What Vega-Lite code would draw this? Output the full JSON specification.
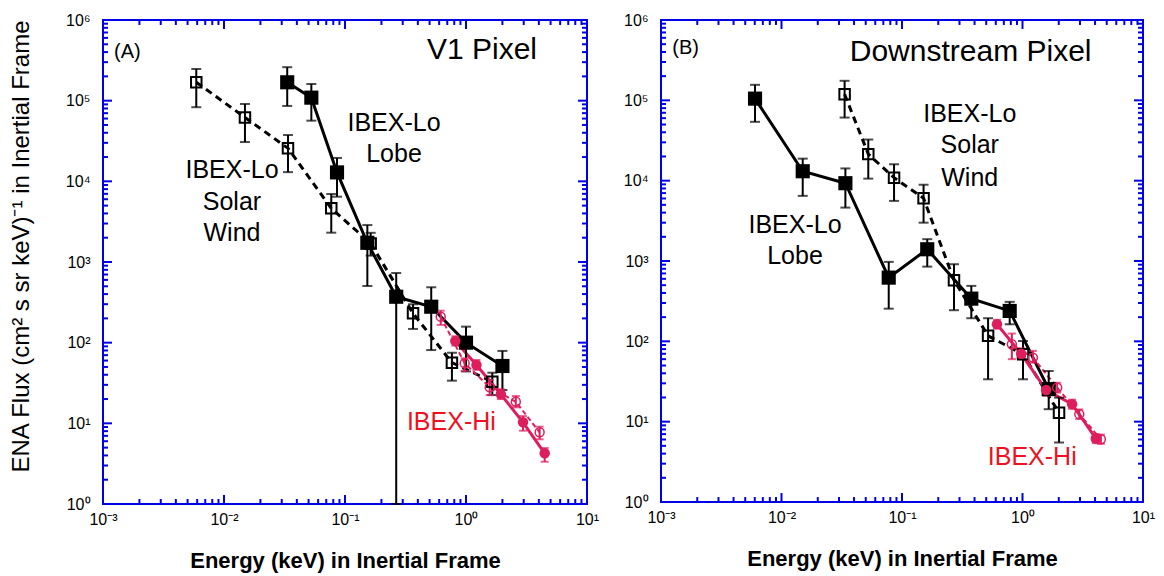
{
  "$schema": "https://vega.github.io/schema/vega-lite/v6.json",
  "background": "white",
  "padding": {"left": 8, "top": 11, "right": 10, "bottom": 5},
  "spacing": 74,
  "bounds": "flush",
  "config": {
    "font": "Liberation Sans",
    "view": {"stroke": "#0000e6", "strokeWidth": 2},
    "axis": {"grid": false, "domain": false, "ticks": false, "labelFont": "Liberation Sans", "labelFontSize": 16, "labelColor": "black", "labelFlush": false, "labelOverlap": false, "labelBound": false, "titleFont": "Liberation Sans", "titleColor": "black"}
  },
  "datasets": {
    "pts": [
      {"panel": "A", "series": "lobe", "E": 0.0333, "flux": 169000, "lo": 86000, "hi": 260000},
      {"panel": "A", "series": "lobe", "E": 0.0527, "flux": 109000, "lo": 56500, "hi": 161000},
      {"panel": "A", "series": "lobe", "E": 0.0859, "flux": 12900, "lo": 6450, "hi": 19500},
      {"panel": "A", "series": "lobe", "E": 0.153, "flux": 1730, "lo": 504, "hi": 2870},
      {"panel": "A", "series": "lobe", "E": 0.265, "flux": 371, "lo": 1, "hi": 731},
      {"panel": "A", "series": "lobe", "E": 0.516, "flux": 279, "lo": 81, "hi": 486},
      {"panel": "A", "series": "lobe", "E": 1.0, "flux": 100, "lo": 44, "hi": 158},
      {"panel": "A", "series": "lobe", "E": 2.0, "flux": 51.4, "lo": 25.9, "hi": 79},
      {"panel": "A", "series": "sw", "E": 0.0059, "flux": 169000, "lo": 83000, "hi": 247000},
      {"panel": "A", "series": "sw", "E": 0.0149, "flux": 62000, "lo": 30700, "hi": 91000},
      {"panel": "A", "series": "sw", "E": 0.0338, "flux": 25700, "lo": 13000, "hi": 37500},
      {"panel": "A", "series": "sw", "E": 0.077, "flux": 4630, "lo": 2310, "hi": 6960},
      {"panel": "A", "series": "sw", "E": 0.163, "flux": 1700, "lo": 1200, "hi": 2300},
      {"panel": "A", "series": "sw", "E": 0.365, "flux": 231, "lo": 148, "hi": 299},
      {"panel": "A", "series": "sw", "E": 0.765, "flux": 56.5, "lo": 33.8, "hi": 75},
      {"panel": "A", "series": "sw", "E": 1.65, "flux": 32.8, "lo": 22.4, "hi": 42.4},
      {"panel": "A", "series": "hiF", "E": 0.816, "flux": 105, "lo": 92, "hi": 120},
      {"panel": "A", "series": "hiF", "E": 1.22, "flux": 52.8, "lo": 46, "hi": 61},
      {"panel": "A", "series": "hiF", "E": 1.94, "flux": 22.9, "lo": 20, "hi": 26.5},
      {"panel": "A", "series": "hiF", "E": 2.96, "flux": 10.3, "lo": 8.1, "hi": 12.3},
      {"panel": "A", "series": "hiF", "E": 4.47, "flux": 4.25, "lo": 3.34, "hi": 4.94},
      {"panel": "A", "series": "hiO", "E": 0.618, "flux": 210, "lo": 166, "hi": 249},
      {"panel": "A", "series": "hiO", "E": 0.975, "flux": 55.5, "lo": 44.5, "hi": 64},
      {"panel": "A", "series": "hiO", "E": 1.57, "flux": 28, "lo": 22.4, "hi": 34.4},
      {"panel": "A", "series": "hiO", "E": 2.58, "flux": 18.5, "lo": 15.8, "hi": 21.8},
      {"panel": "A", "series": "hiO", "E": 4.06, "flux": 7.74, "lo": 6.34, "hi": 9.08},
      {"panel": "B", "series": "lobe", "E": 0.00603, "flux": 105000, "lo": 54000, "hi": 156000},
      {"panel": "B", "series": "lobe", "E": 0.015, "flux": 13100, "lo": 6470, "hi": 18800},
      {"panel": "B", "series": "lobe", "E": 0.0339, "flux": 9300, "lo": 4620, "hi": 14200},
      {"panel": "B", "series": "lobe", "E": 0.0776, "flux": 621, "lo": 255, "hi": 975},
      {"panel": "B", "series": "lobe", "E": 0.162, "flux": 1400, "lo": 851, "hi": 1870},
      {"panel": "B", "series": "lobe", "E": 0.376, "flux": 340, "lo": 194, "hi": 490},
      {"panel": "B", "series": "lobe", "E": 0.783, "flux": 239, "lo": 163, "hi": 310},
      {"panel": "B", "series": "lobe", "E": 1.65, "flux": 25.4, "lo": 14.3, "hi": 42.7},
      {"panel": "B", "series": "sw", "E": 0.0334, "flux": 119000, "lo": 61000, "hi": 175000},
      {"panel": "B", "series": "sw", "E": 0.0525, "flux": 21400, "lo": 10600, "hi": 32500},
      {"panel": "B", "series": "sw", "E": 0.0859, "flux": 10900, "lo": 5600, "hi": 16000},
      {"panel": "B", "series": "sw", "E": 0.151, "flux": 6050, "lo": 3000, "hi": 8900},
      {"panel": "B", "series": "sw", "E": 0.27, "flux": 577, "lo": 244, "hi": 912},
      {"panel": "B", "series": "sw", "E": 0.518, "flux": 117, "lo": 33.7, "hi": 194},
      {"panel": "B", "series": "sw", "E": 1.01, "flux": 69, "lo": 33.7, "hi": 101},
      {"panel": "B", "series": "sw", "E": 2.01, "flux": 12.9, "lo": 5.5, "hi": 19.9},
      {"panel": "B", "series": "hiF", "E": 0.614, "flux": 163, "lo": 145, "hi": 185},
      {"panel": "B", "series": "hiF", "E": 0.975, "flux": 70, "lo": 60, "hi": 82},
      {"panel": "B", "series": "hiF", "E": 1.57, "flux": 24.8, "lo": 21, "hi": 29},
      {"panel": "B", "series": "hiF", "E": 2.58, "flux": 16.5, "lo": 14.5, "hi": 18.8},
      {"panel": "B", "series": "hiF", "E": 4.06, "flux": 6.18, "lo": 5.4, "hi": 7.0},
      {"panel": "B", "series": "hiO", "E": 0.816, "flux": 92, "lo": 60, "hi": 125},
      {"panel": "B", "series": "hiO", "E": 1.22, "flux": 62.7, "lo": 54, "hi": 76},
      {"panel": "B", "series": "hiO", "E": 1.94, "flux": 26.5, "lo": 23, "hi": 30.5},
      {"panel": "B", "series": "hiO", "E": 2.96, "flux": 12.4, "lo": 10.8, "hi": 14.2},
      {"panel": "B", "series": "hiO", "E": 4.47, "flux": 6.04, "lo": 5.3, "hi": 6.9}
    ],
    "gridmarks": [
      {"dim": "x", "kind": "major", "v": 0.001}, {"dim": "x", "kind": "major", "v": 0.01}, {"dim": "x", "kind": "major", "v": 0.1}, {"dim": "x", "kind": "major", "v": 1}, {"dim": "x", "kind": "major", "v": 10},
      {"dim": "x", "kind": "minor", "v": 0.002}, {"dim": "x", "kind": "minor", "v": 0.003}, {"dim": "x", "kind": "minor", "v": 0.004}, {"dim": "x", "kind": "minor", "v": 0.005}, {"dim": "x", "kind": "minor", "v": 0.006}, {"dim": "x", "kind": "minor", "v": 0.007}, {"dim": "x", "kind": "minor", "v": 0.008}, {"dim": "x", "kind": "minor", "v": 0.009},
      {"dim": "x", "kind": "minor", "v": 0.02}, {"dim": "x", "kind": "minor", "v": 0.03}, {"dim": "x", "kind": "minor", "v": 0.04}, {"dim": "x", "kind": "minor", "v": 0.05}, {"dim": "x", "kind": "minor", "v": 0.06}, {"dim": "x", "kind": "minor", "v": 0.07}, {"dim": "x", "kind": "minor", "v": 0.08}, {"dim": "x", "kind": "minor", "v": 0.09},
      {"dim": "x", "kind": "minor", "v": 0.2}, {"dim": "x", "kind": "minor", "v": 0.3}, {"dim": "x", "kind": "minor", "v": 0.4}, {"dim": "x", "kind": "minor", "v": 0.5}, {"dim": "x", "kind": "minor", "v": 0.6}, {"dim": "x", "kind": "minor", "v": 0.7}, {"dim": "x", "kind": "minor", "v": 0.8}, {"dim": "x", "kind": "minor", "v": 0.9},
      {"dim": "x", "kind": "minor", "v": 2}, {"dim": "x", "kind": "minor", "v": 3}, {"dim": "x", "kind": "minor", "v": 4}, {"dim": "x", "kind": "minor", "v": 5}, {"dim": "x", "kind": "minor", "v": 6}, {"dim": "x", "kind": "minor", "v": 7}, {"dim": "x", "kind": "minor", "v": 8}, {"dim": "x", "kind": "minor", "v": 9},
      {"dim": "y", "kind": "major", "v": 1}, {"dim": "y", "kind": "major", "v": 10}, {"dim": "y", "kind": "major", "v": 100}, {"dim": "y", "kind": "major", "v": 1000}, {"dim": "y", "kind": "major", "v": 10000}, {"dim": "y", "kind": "major", "v": 100000}, {"dim": "y", "kind": "major", "v": 1000000},
      {"dim": "y", "kind": "minor", "v": 2}, {"dim": "y", "kind": "minor", "v": 3}, {"dim": "y", "kind": "minor", "v": 4}, {"dim": "y", "kind": "minor", "v": 5}, {"dim": "y", "kind": "minor", "v": 6}, {"dim": "y", "kind": "minor", "v": 7}, {"dim": "y", "kind": "minor", "v": 8}, {"dim": "y", "kind": "minor", "v": 9},
      {"dim": "y", "kind": "minor", "v": 20}, {"dim": "y", "kind": "minor", "v": 30}, {"dim": "y", "kind": "minor", "v": 40}, {"dim": "y", "kind": "minor", "v": 50}, {"dim": "y", "kind": "minor", "v": 60}, {"dim": "y", "kind": "minor", "v": 70}, {"dim": "y", "kind": "minor", "v": 80}, {"dim": "y", "kind": "minor", "v": 90},
      {"dim": "y", "kind": "minor", "v": 200}, {"dim": "y", "kind": "minor", "v": 300}, {"dim": "y", "kind": "minor", "v": 400}, {"dim": "y", "kind": "minor", "v": 500}, {"dim": "y", "kind": "minor", "v": 600}, {"dim": "y", "kind": "minor", "v": 700}, {"dim": "y", "kind": "minor", "v": 800}, {"dim": "y", "kind": "minor", "v": 900},
      {"dim": "y", "kind": "minor", "v": 2000}, {"dim": "y", "kind": "minor", "v": 3000}, {"dim": "y", "kind": "minor", "v": 4000}, {"dim": "y", "kind": "minor", "v": 5000}, {"dim": "y", "kind": "minor", "v": 6000}, {"dim": "y", "kind": "minor", "v": 7000}, {"dim": "y", "kind": "minor", "v": 8000}, {"dim": "y", "kind": "minor", "v": 9000},
      {"dim": "y", "kind": "minor", "v": 20000}, {"dim": "y", "kind": "minor", "v": 30000}, {"dim": "y", "kind": "minor", "v": 40000}, {"dim": "y", "kind": "minor", "v": 50000}, {"dim": "y", "kind": "minor", "v": 60000}, {"dim": "y", "kind": "minor", "v": 70000}, {"dim": "y", "kind": "minor", "v": 80000}, {"dim": "y", "kind": "minor", "v": 90000},
      {"dim": "y", "kind": "minor", "v": 200000}, {"dim": "y", "kind": "minor", "v": 300000}, {"dim": "y", "kind": "minor", "v": 400000}, {"dim": "y", "kind": "minor", "v": 500000}, {"dim": "y", "kind": "minor", "v": 600000}, {"dim": "y", "kind": "minor", "v": 700000}, {"dim": "y", "kind": "minor", "v": 800000}, {"dim": "y", "kind": "minor", "v": 900000}
    ],
    "txt": [
      {"panel": "A", "kind": "title", "text": "V1 Pixel", "E": 1.356, "flux": 425000},
      {"panel": "A", "kind": "tag", "text": "(A)", "E": 0.00159, "flux": 405000},
      {"panel": "A", "kind": "ann", "text": "IBEX-Lo", "E": 0.254, "flux": 52400},
      {"panel": "A", "kind": "ann", "text": "Lobe", "E": 0.254, "flux": 21800},
      {"panel": "A", "kind": "ann", "text": "IBEX-Lo", "E": 0.01164, "flux": 13800},
      {"panel": "A", "kind": "ann", "text": "Solar", "E": 0.01164, "flux": 5590},
      {"panel": "A", "kind": "ann", "text": "Wind", "E": 0.01164, "flux": 2270},
      {"panel": "A", "kind": "hi", "text": "IBEX-Hi", "E": 0.757, "flux": 10.5},
      {"panel": "B", "kind": "title", "text": "Downstream Pixel", "E": 0.371, "flux": 405000},
      {"panel": "B", "kind": "tag", "text": "(B)", "E": 0.0016, "flux": 442000},
      {"panel": "B", "kind": "ann", "text": "IBEX-Lo", "E": 0.365, "flux": 67300},
      {"panel": "B", "kind": "ann", "text": "Solar", "E": 0.365, "flux": 27900},
      {"panel": "B", "kind": "ann", "text": "Wind", "E": 0.365, "flux": 10900},
      {"panel": "B", "kind": "ann", "text": "IBEX-Lo", "E": 0.01294, "flux": 2790},
      {"panel": "B", "kind": "ann", "text": "Lobe", "E": 0.01294, "flux": 1160},
      {"panel": "B", "kind": "hi", "text": "IBEX-Hi", "E": 1.205, "flux": 3.63}
    ]
  },
  "hconcat": [
    {
      "width": 484,
      "height": 484,
      "resolve": {"axis": {"x": "independent", "y": "independent"}},
      "layer": [
        {
          "data": {"name": "pts"},
          "transform": [{"filter": "datum.panel === 'A' && datum.series === 'lobe'"}],
          "mark": {"type": "line", "color": "black", "strokeWidth": 3},
          "encoding": {
            "x": {"field": "E", "type": "quantitative", "scale": {"type": "log", "domain": [0.001, 10], "nice": false},
              "axis": {"orient": "bottom", "values": [0.001, 0.01, 0.1, 1, 10], "ticks": false, "labelPadding": 7, "labelExpr": "datum.value < 0.005 ? '10⁻³' : datum.value < 0.05 ? '10⁻²' : datum.value < 0.5 ? '10⁻¹' : datum.value < 5 ? '10⁰' : '10¹'", "title": "Energy (keV) in Inertial Frame", "titleFontSize": 22, "titleFontWeight": "bold", "titlePadding": 23}},
            "y": {"field": "flux", "type": "quantitative", "scale": {"type": "log", "domain": [1, 1000000], "nice": false},
              "axis": {"orient": "left", "values": [1, 10, 100, 1000, 10000, 100000, 1000000], "ticks": false, "labelPadding": 13, "labelExpr": "datum.value < 5 ? '10⁰' : datum.value < 50 ? '10¹' : datum.value < 500 ? '10²' : datum.value < 5000 ? '10³' : datum.value < 50000 ? '10⁴' : datum.value < 500000 ? '10⁵' : '10⁶'", "title": "ENA Flux (cm² s sr keV)⁻¹ in Inertial Frame", "titleFontSize": 24, "titleFontWeight": "normal", "titlePadding": 32, "titleY": 226}}
          }
        },
        {
          "data": {"name": "pts"},
          "transform": [{"filter": "datum.panel === 'A' && datum.series === 'sw'"}],
          "mark": {"type": "line", "color": "black", "strokeWidth": 3, "strokeDash": [7, 5]},
          "encoding": {
            "x": {"field": "E", "type": "quantitative", "axis": null},
            "y": {"field": "flux", "type": "quantitative", "axis": null}
          }
        },
        {
          "data": {"name": "pts"},
          "transform": [{"filter": "datum.panel === 'A' && datum.series === 'hiF'"}],
          "mark": {"type": "line", "color": "#de1e5c", "strokeWidth": 3},
          "encoding": {
            "x": {"field": "E", "type": "quantitative", "axis": null},
            "y": {"field": "flux", "type": "quantitative", "axis": null}
          }
        },
        {
          "data": {"name": "pts"},
          "transform": [{"filter": "datum.panel === 'A' && datum.series === 'hiO'"}],
          "mark": {"type": "line", "color": "#de1e5c", "strokeWidth": 2, "strokeDash": [5, 3]},
          "encoding": {
            "x": {"field": "E", "type": "quantitative", "axis": null},
            "y": {"field": "flux", "type": "quantitative", "axis": null}
          }
        },
        {
          "data": {"name": "gridmarks"},
          "transform": [{"filter": "datum.dim === 'x' && datum.kind === 'major'"}],
          "mark": {"type": "rule", "color": "#0000e6", "strokeWidth": 2},
          "encoding": {"x": {"field": "v", "type": "quantitative", "axis": null}, "y": {"datum": 1, "type": "quantitative", "axis": null}, "y2": {"datum": 1.293}}
        },
        {
          "data": {"name": "gridmarks"},
          "transform": [{"filter": "datum.dim === 'x' && datum.kind === 'minor'"}],
          "mark": {"type": "rule", "color": "#0000e6", "strokeWidth": 2},
          "encoding": {"x": {"field": "v", "type": "quantitative", "axis": null}, "y": {"datum": 1, "type": "quantitative", "axis": null}, "y2": {"datum": 1.153}}
        },
        {
          "data": {"name": "gridmarks"},
          "transform": [{"filter": "datum.dim === 'x' && datum.kind === 'major'"}],
          "mark": {"type": "rule", "color": "#0000e6", "strokeWidth": 2},
          "encoding": {"x": {"field": "v", "type": "quantitative", "axis": null}, "y": {"datum": 1000000, "type": "quantitative", "axis": null}, "y2": {"datum": 773400}}
        },
        {
          "data": {"name": "gridmarks"},
          "transform": [{"filter": "datum.dim === 'x' && datum.kind === 'minor'"}],
          "mark": {"type": "rule", "color": "#0000e6", "strokeWidth": 2},
          "encoding": {"x": {"field": "v", "type": "quantitative", "axis": null}, "y": {"datum": 1000000, "type": "quantitative", "axis": null}, "y2": {"datum": 867300}}
        },
        {
          "data": {"name": "gridmarks"},
          "transform": [{"filter": "datum.dim === 'y' && datum.kind === 'major'"}],
          "mark": {"type": "rule", "color": "#0000e6", "strokeWidth": 2},
          "encoding": {"y": {"field": "v", "type": "quantitative", "axis": null}, "x": {"datum": 0.001, "type": "quantitative", "axis": null}, "x2": {"datum": 0.001187}}
        },
        {
          "data": {"name": "gridmarks"},
          "transform": [{"filter": "datum.dim === 'y' && datum.kind === 'minor'"}],
          "mark": {"type": "rule", "color": "#0000e6", "strokeWidth": 2},
          "encoding": {"y": {"field": "v", "type": "quantitative", "axis": null}, "x": {"datum": 0.001, "type": "quantitative", "axis": null}, "x2": {"datum": 0.0011}}
        },
        {
          "data": {"name": "gridmarks"},
          "transform": [{"filter": "datum.dim === 'y' && datum.kind === 'major'"}],
          "mark": {"type": "rule", "color": "#0000e6", "strokeWidth": 2},
          "encoding": {"y": {"field": "v", "type": "quantitative", "axis": null}, "x": {"datum": 10, "type": "quantitative", "axis": null}, "x2": {"datum": 8.42}}
        },
        {
          "data": {"name": "gridmarks"},
          "transform": [{"filter": "datum.dim === 'y' && datum.kind === 'minor'"}],
          "mark": {"type": "rule", "color": "#0000e6", "strokeWidth": 2},
          "encoding": {"y": {"field": "v", "type": "quantitative", "axis": null}, "x": {"datum": 10, "type": "quantitative", "axis": null}, "x2": {"datum": 9.09}}
        },
        {
          "data": {"name": "pts"},
          "transform": [{"filter": "datum.panel === 'A' && (datum.series === 'lobe' || datum.series === 'sw')"}],
          "mark": {"type": "errorbar", "ticks": true, "size": 10, "thickness": 2, "color": "black"},
          "encoding": {
            "x": {"field": "E", "type": "quantitative", "axis": null},
            "y": {"field": "lo", "type": "quantitative", "axis": null},
            "y2": {"field": "hi"}
          }
        },
        {
          "data": {"name": "pts"},
          "transform": [{"filter": "datum.panel === 'A' && (datum.series === 'hiF' || datum.series === 'hiO')"}],
          "mark": {"type": "errorbar", "ticks": true, "size": 8, "thickness": 2, "color": "#de1e5c"},
          "encoding": {
            "x": {"field": "E", "type": "quantitative", "axis": null},
            "y": {"field": "lo", "type": "quantitative", "axis": null},
            "y2": {"field": "hi"}
          }
        },
        {
          "data": {"name": "pts"},
          "transform": [{"filter": "datum.panel === 'A' && datum.series === 'lobe'"}],
          "mark": {"type": "point", "shape": "square", "filled": true, "color": "black", "size": 200, "opacity": 1},
          "encoding": {
            "x": {"field": "E", "type": "quantitative", "axis": null},
            "y": {"field": "flux", "type": "quantitative", "axis": null}
          }
        },
        {
          "data": {"name": "pts"},
          "transform": [{"filter": "datum.panel === 'A' && datum.series === 'sw'"}],
          "mark": {"type": "point", "shape": "square", "filled": false, "color": "black", "strokeWidth": 2, "size": 110, "opacity": 1},
          "encoding": {
            "x": {"field": "E", "type": "quantitative", "axis": null},
            "y": {"field": "flux", "type": "quantitative", "axis": null}
          }
        },
        {
          "data": {"name": "pts"},
          "transform": [{"filter": "datum.panel === 'A' && datum.series === 'hiF'"}],
          "mark": {"type": "point", "shape": "circle", "filled": true, "color": "#de1e5c", "size": 110, "opacity": 1},
          "encoding": {
            "x": {"field": "E", "type": "quantitative", "axis": null},
            "y": {"field": "flux", "type": "quantitative", "axis": null}
          }
        },
        {
          "data": {"name": "pts"},
          "transform": [{"filter": "datum.panel === 'A' && datum.series === 'hiO'"}],
          "mark": {"type": "point", "shape": "circle", "filled": false, "color": "#de1e5c", "strokeWidth": 1.5, "size": 80, "opacity": 1},
          "encoding": {
            "x": {"field": "E", "type": "quantitative", "axis": null},
            "y": {"field": "flux", "type": "quantitative", "axis": null}
          }
        },
        {
          "data": {"name": "txt"},
          "transform": [{"filter": "datum.panel === 'A' && datum.kind === 'title'"}],
          "mark": {"type": "text", "fontSize": 30, "align": "center", "baseline": "middle", "color": "black"},
          "encoding": {
            "x": {"field": "E", "type": "quantitative", "axis": null},
            "y": {"field": "flux", "type": "quantitative", "axis": null},
            "text": {"field": "text"}
          }
        },
        {
          "data": {"name": "txt"},
          "transform": [{"filter": "datum.panel === 'A' && datum.kind === 'tag'"}],
          "mark": {"type": "text", "fontSize": 20, "align": "center", "baseline": "middle", "color": "black"},
          "encoding": {
            "x": {"field": "E", "type": "quantitative", "axis": null},
            "y": {"field": "flux", "type": "quantitative", "axis": null},
            "text": {"field": "text"}
          }
        },
        {
          "data": {"name": "txt"},
          "transform": [{"filter": "datum.panel === 'A' && datum.kind === 'ann'"}],
          "mark": {"type": "text", "fontSize": 25, "align": "center", "baseline": "middle", "color": "black"},
          "encoding": {
            "x": {"field": "E", "type": "quantitative", "axis": null},
            "y": {"field": "flux", "type": "quantitative", "axis": null},
            "text": {"field": "text"}
          }
        },
        {
          "data": {"name": "txt"},
          "transform": [{"filter": "datum.panel === 'A' && datum.kind === 'hi'"}],
          "mark": {"type": "text", "fontSize": 25, "align": "center", "baseline": "middle", "color": "#ee1122"},
          "encoding": {
            "x": {"field": "E", "type": "quantitative", "axis": null},
            "y": {"field": "flux", "type": "quantitative", "axis": null},
            "text": {"field": "text"}
          }
        }
      ]
    },
    {
      "width": 482,
      "height": 482,
      "resolve": {"axis": {"x": "independent", "y": "independent"}},
      "layer": [
        {
          "data": {"name": "pts"},
          "transform": [{"filter": "datum.panel === 'B' && datum.series === 'lobe'"}],
          "mark": {"type": "line", "color": "black", "strokeWidth": 3},
          "encoding": {
            "x": {"field": "E", "type": "quantitative", "scale": {"type": "log", "domain": [0.001, 10], "nice": false},
              "axis": {"orient": "bottom", "values": [0.001, 0.01, 0.1, 1, 10], "ticks": false, "labelPadding": 7, "labelExpr": "datum.value < 0.005 ? '10⁻³' : datum.value < 0.05 ? '10⁻²' : datum.value < 0.5 ? '10⁻¹' : datum.value < 5 ? '10⁰' : '10¹'", "title": "Energy (keV) in Inertial Frame", "titleFontSize": 22, "titleFontWeight": "bold", "titlePadding": 23}},
            "y": {"field": "flux", "type": "quantitative", "scale": {"type": "log", "domain": [1, 1000000], "nice": false},
              "axis": {"orient": "left", "values": [1, 10, 100, 1000, 10000, 100000, 1000000], "ticks": false, "labelPadding": 13, "labelExpr": "datum.value < 5 ? '10⁰' : datum.value < 50 ? '10¹' : datum.value < 500 ? '10²' : datum.value < 5000 ? '10³' : datum.value < 50000 ? '10⁴' : datum.value < 500000 ? '10⁵' : '10⁶'", "title": null}}
          }
        },
        {
          "data": {"name": "pts"},
          "transform": [{"filter": "datum.panel === 'B' && datum.series === 'sw'"}],
          "mark": {"type": "line", "color": "black", "strokeWidth": 3, "strokeDash": [7, 5]},
          "encoding": {
            "x": {"field": "E", "type": "quantitative", "axis": null},
            "y": {"field": "flux", "type": "quantitative", "axis": null}
          }
        },
        {
          "data": {"name": "pts"},
          "transform": [{"filter": "datum.panel === 'B' && datum.series === 'hiF'"}],
          "mark": {"type": "line", "color": "#de1e5c", "strokeWidth": 3},
          "encoding": {
            "x": {"field": "E", "type": "quantitative", "axis": null},
            "y": {"field": "flux", "type": "quantitative", "axis": null}
          }
        },
        {
          "data": {"name": "pts"},
          "transform": [{"filter": "datum.panel === 'B' && datum.series === 'hiO'"}],
          "mark": {"type": "line", "color": "#de1e5c", "strokeWidth": 2, "strokeDash": [5, 3]},
          "encoding": {
            "x": {"field": "E", "type": "quantitative", "axis": null},
            "y": {"field": "flux", "type": "quantitative", "axis": null}
          }
        },
        {
          "data": {"name": "gridmarks"},
          "transform": [{"filter": "datum.dim === 'x' && datum.kind === 'major'"}],
          "mark": {"type": "rule", "color": "#0000e6", "strokeWidth": 2},
          "encoding": {"x": {"field": "v", "type": "quantitative", "axis": null}, "y": {"datum": 1, "type": "quantitative", "axis": null}, "y2": {"datum": 1.293}}
        },
        {
          "data": {"name": "gridmarks"},
          "transform": [{"filter": "datum.dim === 'x' && datum.kind === 'minor'"}],
          "mark": {"type": "rule", "color": "#0000e6", "strokeWidth": 2},
          "encoding": {"x": {"field": "v", "type": "quantitative", "axis": null}, "y": {"datum": 1, "type": "quantitative", "axis": null}, "y2": {"datum": 1.153}}
        },
        {
          "data": {"name": "gridmarks"},
          "transform": [{"filter": "datum.dim === 'x' && datum.kind === 'major'"}],
          "mark": {"type": "rule", "color": "#0000e6", "strokeWidth": 2},
          "encoding": {"x": {"field": "v", "type": "quantitative", "axis": null}, "y": {"datum": 1000000, "type": "quantitative", "axis": null}, "y2": {"datum": 773400}}
        },
        {
          "data": {"name": "gridmarks"},
          "transform": [{"filter": "datum.dim === 'x' && datum.kind === 'minor'"}],
          "mark": {"type": "rule", "color": "#0000e6", "strokeWidth": 2},
          "encoding": {"x": {"field": "v", "type": "quantitative", "axis": null}, "y": {"datum": 1000000, "type": "quantitative", "axis": null}, "y2": {"datum": 867300}}
        },
        {
          "data": {"name": "gridmarks"},
          "transform": [{"filter": "datum.dim === 'y' && datum.kind === 'major'"}],
          "mark": {"type": "rule", "color": "#0000e6", "strokeWidth": 2},
          "encoding": {"y": {"field": "v", "type": "quantitative", "axis": null}, "x": {"datum": 0.001, "type": "quantitative", "axis": null}, "x2": {"datum": 0.001187}}
        },
        {
          "data": {"name": "gridmarks"},
          "transform": [{"filter": "datum.dim === 'y' && datum.kind === 'minor'"}],
          "mark": {"type": "rule", "color": "#0000e6", "strokeWidth": 2},
          "encoding": {"y": {"field": "v", "type": "quantitative", "axis": null}, "x": {"datum": 0.001, "type": "quantitative", "axis": null}, "x2": {"datum": 0.0011}}
        },
        {
          "data": {"name": "gridmarks"},
          "transform": [{"filter": "datum.dim === 'y' && datum.kind === 'major'"}],
          "mark": {"type": "rule", "color": "#0000e6", "strokeWidth": 2},
          "encoding": {"y": {"field": "v", "type": "quantitative", "axis": null}, "x": {"datum": 10, "type": "quantitative", "axis": null}, "x2": {"datum": 8.42}}
        },
        {
          "data": {"name": "gridmarks"},
          "transform": [{"filter": "datum.dim === 'y' && datum.kind === 'minor'"}],
          "mark": {"type": "rule", "color": "#0000e6", "strokeWidth": 2},
          "encoding": {"y": {"field": "v", "type": "quantitative", "axis": null}, "x": {"datum": 10, "type": "quantitative", "axis": null}, "x2": {"datum": 9.09}}
        },
        {
          "data": {"name": "pts"},
          "transform": [{"filter": "datum.panel === 'B' && (datum.series === 'lobe' || datum.series === 'sw')"}],
          "mark": {"type": "errorbar", "ticks": true, "size": 10, "thickness": 2, "color": "black"},
          "encoding": {
            "x": {"field": "E", "type": "quantitative", "axis": null},
            "y": {"field": "lo", "type": "quantitative", "axis": null},
            "y2": {"field": "hi"}
          }
        },
        {
          "data": {"name": "pts"},
          "transform": [{"filter": "datum.panel === 'B' && (datum.series === 'hiF' || datum.series === 'hiO')"}],
          "mark": {"type": "errorbar", "ticks": true, "size": 8, "thickness": 2, "color": "#de1e5c"},
          "encoding": {
            "x": {"field": "E", "type": "quantitative", "axis": null},
            "y": {"field": "lo", "type": "quantitative", "axis": null},
            "y2": {"field": "hi"}
          }
        },
        {
          "data": {"name": "pts"},
          "transform": [{"filter": "datum.panel === 'B' && datum.series === 'lobe'"}],
          "mark": {"type": "point", "shape": "square", "filled": true, "color": "black", "size": 200, "opacity": 1},
          "encoding": {
            "x": {"field": "E", "type": "quantitative", "axis": null},
            "y": {"field": "flux", "type": "quantitative", "axis": null}
          }
        },
        {
          "data": {"name": "pts"},
          "transform": [{"filter": "datum.panel === 'B' && datum.series === 'sw'"}],
          "mark": {"type": "point", "shape": "square", "filled": false, "color": "black", "strokeWidth": 2, "size": 110, "opacity": 1},
          "encoding": {
            "x": {"field": "E", "type": "quantitative", "axis": null},
            "y": {"field": "flux", "type": "quantitative", "axis": null}
          }
        },
        {
          "data": {"name": "pts"},
          "transform": [{"filter": "datum.panel === 'B' && datum.series === 'hiF'"}],
          "mark": {"type": "point", "shape": "circle", "filled": true, "color": "#de1e5c", "size": 110, "opacity": 1},
          "encoding": {
            "x": {"field": "E", "type": "quantitative", "axis": null},
            "y": {"field": "flux", "type": "quantitative", "axis": null}
          }
        },
        {
          "data": {"name": "pts"},
          "transform": [{"filter": "datum.panel === 'B' && datum.series === 'hiO'"}],
          "mark": {"type": "point", "shape": "circle", "filled": false, "color": "#de1e5c", "strokeWidth": 1.5, "size": 80, "opacity": 1},
          "encoding": {
            "x": {"field": "E", "type": "quantitative", "axis": null},
            "y": {"field": "flux", "type": "quantitative", "axis": null}
          }
        },
        {
          "data": {"name": "txt"},
          "transform": [{"filter": "datum.panel === 'B' && datum.kind === 'title'"}],
          "mark": {"type": "text", "fontSize": 30, "align": "center", "baseline": "middle", "color": "black"},
          "encoding": {
            "x": {"field": "E", "type": "quantitative", "axis": null},
            "y": {"field": "flux", "type": "quantitative", "axis": null},
            "text": {"field": "text"}
          }
        },
        {
          "data": {"name": "txt"},
          "transform": [{"filter": "datum.panel === 'B' && datum.kind === 'tag'"}],
          "mark": {"type": "text", "fontSize": 20, "align": "center", "baseline": "middle", "color": "black"},
          "encoding": {
            "x": {"field": "E", "type": "quantitative", "axis": null},
            "y": {"field": "flux", "type": "quantitative", "axis": null},
            "text": {"field": "text"}
          }
        },
        {
          "data": {"name": "txt"},
          "transform": [{"filter": "datum.panel === 'B' && datum.kind === 'ann'"}],
          "mark": {"type": "text", "fontSize": 25, "align": "center", "baseline": "middle", "color": "black"},
          "encoding": {
            "x": {"field": "E", "type": "quantitative", "axis": null},
            "y": {"field": "flux", "type": "quantitative", "axis": null},
            "text": {"field": "text"}
          }
        },
        {
          "data": {"name": "txt"},
          "transform": [{"filter": "datum.panel === 'B' && datum.kind === 'hi'"}],
          "mark": {"type": "text", "fontSize": 25, "align": "center", "baseline": "middle", "color": "#ee1122"},
          "encoding": {
            "x": {"field": "E", "type": "quantitative", "axis": null},
            "y": {"field": "flux", "type": "quantitative", "axis": null},
            "text": {"field": "text"}
          }
        }
      ]
    }
  ]
}
